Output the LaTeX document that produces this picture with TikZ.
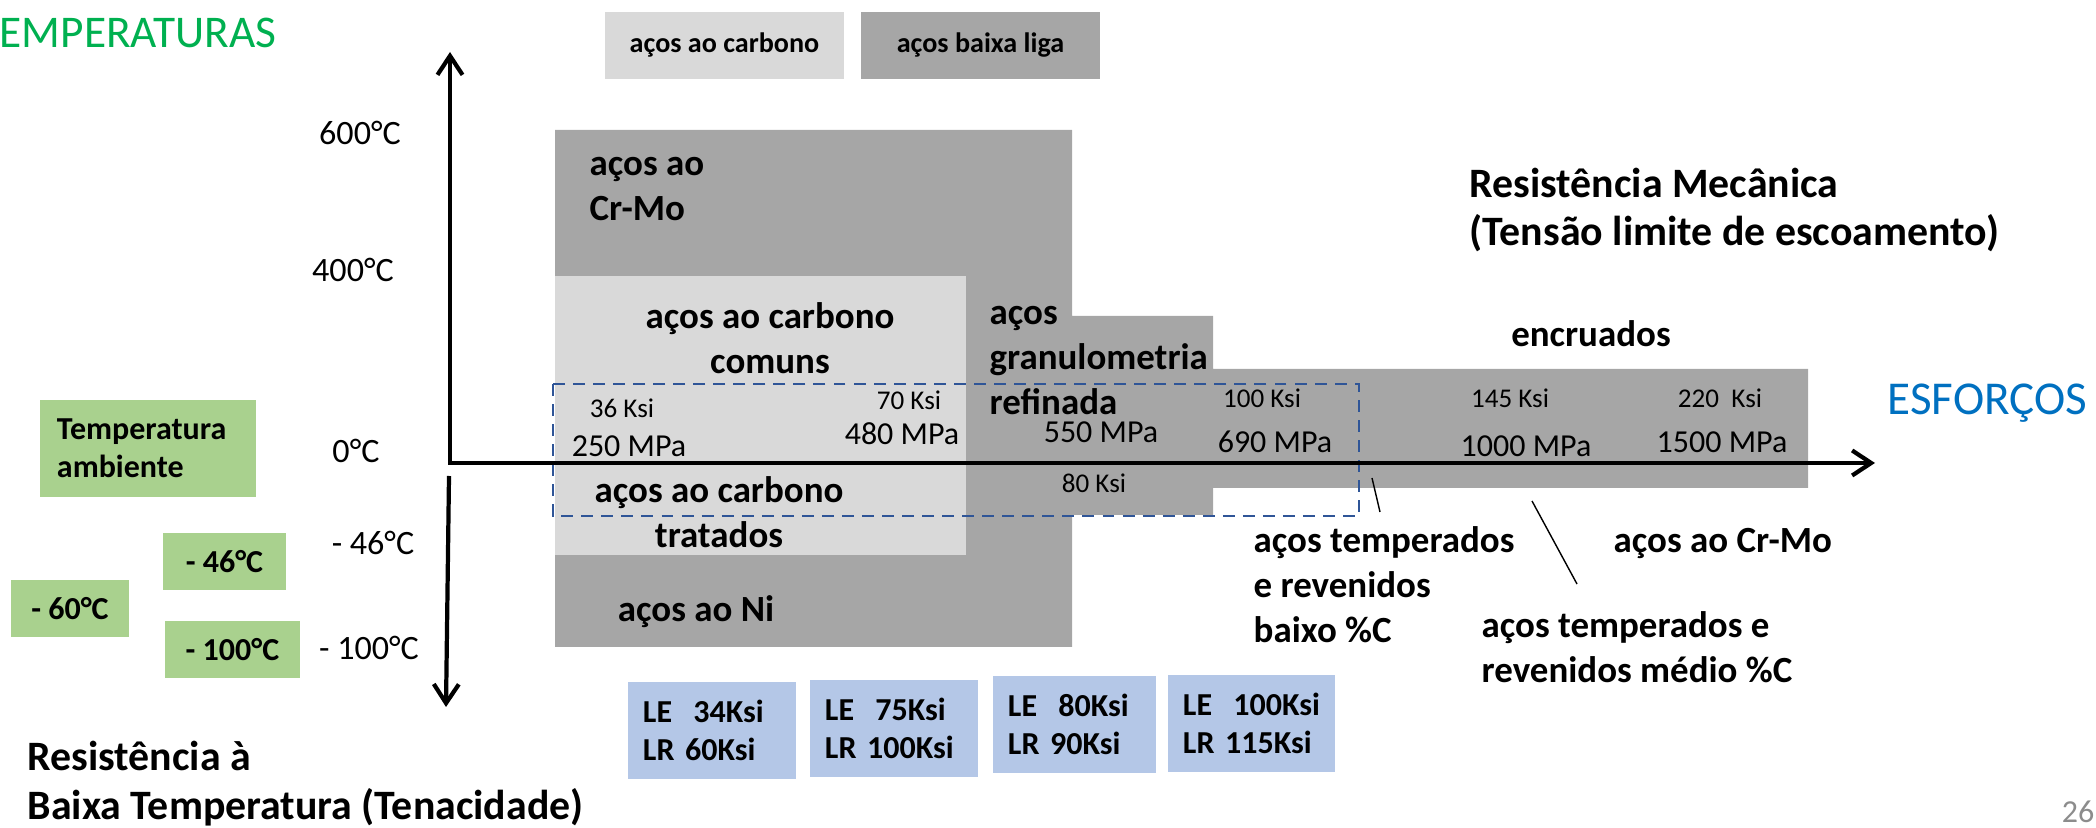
\documentclass[tikz,border=0pt]{standalone}
\usepackage{fontspec}
\setmainfont{Carlito}
\usetikzlibrary{arrows.meta}
\definecolor{lowalloy}{HTML}{A6A6A6}
\definecolor{carbonsteel}{HTML}{D9D9D9}
\definecolor{tempfill}{HTML}{A9D18E}
\definecolor{limitfill}{HTML}{B4C7E7}
\definecolor{frameblue}{HTML}{2F5597}
\definecolor{tempgreen}{HTML}{00B050}
\definecolor{forceblue}{HTML}{0070C0}
\definecolor{pagegray}{HTML}{8C8C8C}
\newcommand\fsz[2]{\fontsize{#1}{#2}\selectfont}
\begin{document}
\begin{tikzpicture}[x=0.01cm, y=-0.01cm,
  lbl/.style={inner sep=0pt, font=\bfseries\fsz{10.5pt}{12.8pt}},
  title/.style={inner sep=0pt, font=\bfseries\fsz{11.9pt}{13.9pt}},
  ksi/.style={inner sep=0pt, font=\fsz{7.7pt}{9pt}},
  mpa/.style={inner sep=0pt, font=\fsz{9.1pt}{11pt}},
  templbl/.style={inner sep=0pt, font=\fsz{9.7pt}{11pt}},
  tempbox/.style={fill=tempfill, inner sep=0pt, minimum height=0.57cm,
    font=\bfseries\fsz{9.1pt}{10.8pt}},
  limitbox/.style={fill=limitfill, inner xsep=0.15cm, inner ysep=0pt,
    minimum height=0.97cm, text width=#1, align=left,
    font=\bfseries\fsz{9.1pt}{10.8pt}},
  legendbox/.style={inner sep=0pt, minimum width=2.39cm, minimum height=0.67cm,
    font=\bfseries\fsz{8pt}{9pt}},
  axis/.style={line width=1.2pt, line join=miter},
  barb/.tip={Straight Barb[length=1.9mm,width=2.5mm]},
  leader/.style={line width=0.4pt},
  dashframe/.style={frameblue, line width=0.6pt, dash pattern=on 3.4pt off 2.3pt}
]
\useasboundingbox (0,0) rectangle (2096,828);

% steel families: low alloy (dark) and plain carbon (light)
\fill[lowalloy] (555,130) -- (1072,130) -- (1072,316) -- (1213,316) -- (1213,369)
  -- (1808,369) -- (1808,488) -- (1213,488) -- (1213,515) -- (1072,515)
  -- (1072,647) -- (555,647) -- cycle;
\fill[carbonsteel] (555,276) rectangle (966,555);

% room temperature window
\draw[dashframe] (553,384) rectangle (1359,516);

% axes
\coordinate (O) at (450,463);
\coordinate (Ytop) at (450,52);
\coordinate (Xend) at (1875,463);
\coordinate (Dstart) at (449,476);
\coordinate (Dend) at (446,707);
\draw[axis, barb-barb] (Ytop) -- (O) -- (Xend);
\draw[axis, -barb] (Dstart) -- (Dend);

% legend
\node[legendbox, fill=carbonsteel] (legC) at (724.5,45.5) {aços ao carbono};
\node[legendbox, fill=lowalloy] (legL) at (980.5,45.5) {aços baixa liga};

% axis titles
\node[inner sep=0pt, anchor=base west, text=tempgreen, font=\fsz{12.9pt}{14pt}] (tT) at (-1,48) {EMPERATURAS};
\node[inner sep=0pt, anchor=base west, text=forceblue, font=\fsz{13.4pt}{15pt}] (tF) at (1887,415) {ESFORÇOS};
\node[title, anchor=base west, align=left] (tR) at (1469,246) {Resistência Mecânica\\(Tensão limite de escoamento)};
\node[title, anchor=base west, align=left, font=\bfseries\fsz{11.9pt}{14.2pt}] (tB) at (27,820) {Resistência à\\Baixa Temperatura (Tenacidade)};

% temperature scale
\node[templbl, anchor=base] (t600) at (360,145) {600°C};
\node[templbl, anchor=base] (t400) at (353,282) {400°C};
\node[templbl, anchor=base] (t0) at (356,463) {0°C};
\node[templbl, anchor=base] (t46) at (373,555) {- 46°C};
\node[templbl, anchor=base] (t100) at (369,660) {- 100°C};

% temperature boxes
\node[fill=tempfill, inner xsep=0.17cm, inner ysep=0pt, minimum height=0.97cm,
  text width=1.82cm, align=left, font=\bfseries\fsz{9.1pt}{10.8pt}] (amb) at (148,448.5) {Temperatura\\ambiente};
\node[tempbox, minimum width=1.23cm] (b46) at (224.5,561.5) {- 46°C};
\node[tempbox, minimum width=1.18cm] (b60) at (70,608.5) {- 60°C};
\node[tempbox, minimum width=1.35cm] (b100) at (232.5,649.5) {- 100°C};

% family labels (base = baseline of the last line)
\node[lbl, anchor=base west, align=left] (crmo) at (589,221) {aços ao\\Cr-Mo};
\node[lbl, anchor=base, align=center] (comuns) at (770,374) {aços ao carbono\\comuns};
\node[lbl, anchor=base, align=center] (tratados) at (719,548) {aços ao carbono\\tratados};
\node[lbl, anchor=base west, align=left] (granul) at (989,415) {aços\\granulometria\\refinada};
\node[lbl, anchor=base] (ni) at (696,622) {aços ao Ni};
\node[lbl, anchor=base] (encr) at (1591,347) {encruados};
\node[lbl, anchor=base west, align=left] (tempb) at (1253,643) {aços temperados\\e revenidos\\baixo \%C};
\node[lbl, anchor=base west] (crmo2) at (1613,553) {aços ao Cr-Mo};
\node[lbl, anchor=base west, align=left] (tempm) at (1481,683) {aços temperados e\\revenidos médio \%C};

% strength values
\node[ksi, anchor=base] (k36) at (622,418) {36 Ksi};
\node[mpa, anchor=base] (m250) at (629,457) {250 MPa};
\node[ksi, anchor=base] (k70) at (909,410) {70 Ksi};
\node[mpa, anchor=base] (m480) at (902,445) {480 MPa};
\node[mpa, anchor=base] (m550) at (1101,443) {550 MPa};
\node[ksi, anchor=base] (k80) at (1094,493) {80 Ksi};
\node[ksi, anchor=base] (k100) at (1262,408) {100 Ksi};
\node[mpa, anchor=base] (m690) at (1275,453) {690 MPa};
\node[ksi, anchor=base] (k145) at (1510,408) {145 Ksi};
\node[mpa, anchor=base] (m1000) at (1526,457) {1000 MPa};
\node[ksi, anchor=base] (k220) at (1720,408) {220~~Ksi};
\node[mpa, anchor=base] (m1500) at (1722,453) {1500 MPa};

% leaders
\coordinate (la) at (1372,478);
\coordinate (lb) at (1380,512);
\coordinate (lc) at (1532,501);
\coordinate (ld) at (1577,584);
\draw[leader] (la) -- (lb);
\draw[leader] (lc) -- (ld);

% yield / tensile strength boxes
\node[limitbox=1.38cm] (s1) at (712,730.5) {LE~~34Ksi\\LR~60Ksi};
\node[limitbox=1.38cm] (s2) at (894,728.5) {LE~~75Ksi\\LR~100Ksi};
\node[limitbox=1.33cm] (s3) at (1074.5,724.5) {LE~~80Ksi\\LR~90Ksi};
\node[limitbox=1.37cm] (s4) at (1251.5,723.5) {LE~~100Ksi\\LR~115Ksi};

% page number
\node[inner sep=0pt, anchor=base east, text=pagegray, font=\fsz{9.1pt}{11pt}] (pg) at (2095,823) {26};
\end{tikzpicture}
\end{document}
